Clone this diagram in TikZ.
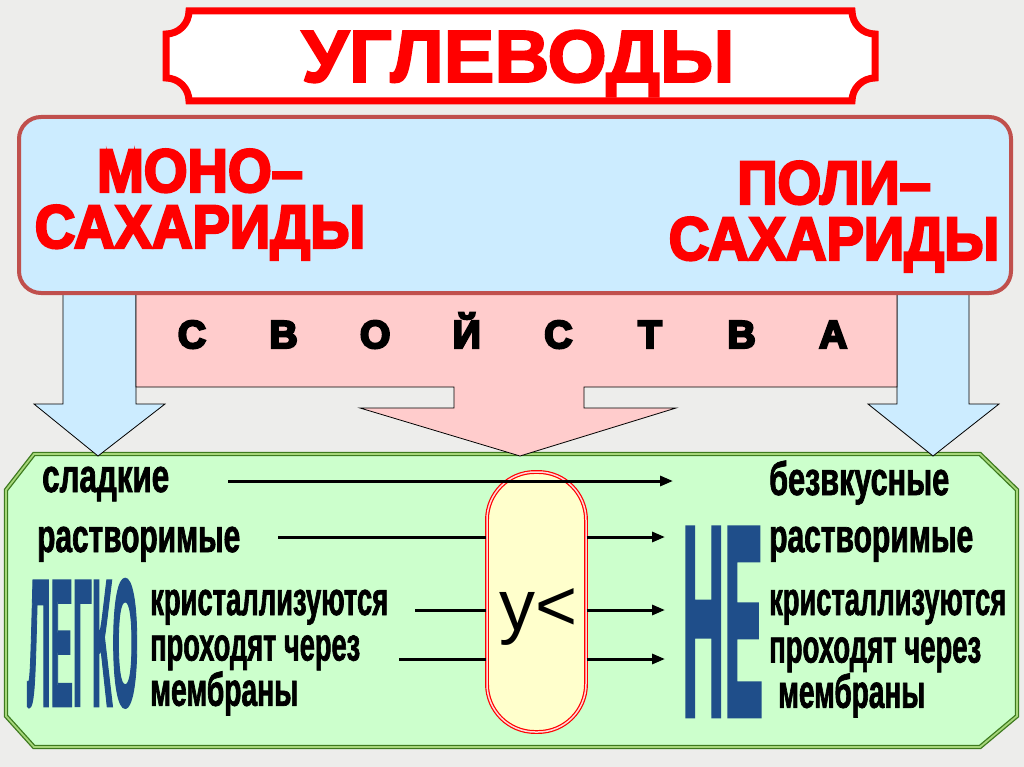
\documentclass[tikz,border=0pt]{standalone}
\usepackage{fontspec}
\usepackage{graphicx}
\setmainfont{Liberation Sans}
\newfontfamily\redfont{Liberation Sans Bold}[FakeStretch=0.92,FakeBold=4]
\newfontfamily\condfont{Liberation Sans Bold}[FakeStretch=0.68,FakeBold=1.5]
\newfontfamily\heavyfont{Liberation Sans Bold}[FakeBold=2.5]
\newfontfamily\blackfont{Liberation Sans Bold}[FakeBold=6]
\newcommand{\fitto}[2]{\resizebox{#1}{\height}{#2}}
\usetikzlibrary{arrows.meta,positioning}
\definecolor{bggray}{HTML}{EDEDEB}
\definecolor{titlered}{HTML}{FF0000}
\definecolor{skyfill}{HTML}{CCECFF}
\definecolor{skyedge}{HTML}{C0504D}
\definecolor{pinkfill}{HTML}{FFCCCC}
\definecolor{mintfill}{HTML}{CCFFCC}
\definecolor{mintedge}{HTML}{3D7A1E}
\definecolor{mintmid}{HTML}{A6D67A}
\definecolor{pillfill}{HTML}{FFFFCC}
\definecolor{nablue}{HTML}{1F4E8A}

\begin{document}
\begin{tikzpicture}[x=1pt,y=-1pt,
  redtext/.style={text=titlered,font=\redfont\fontsize{61}{56}\selectfont,inner sep=0pt,anchor=north,align=center},
  letter/.style={font=\blackfont\fontsize{39}{39}\selectfont,inner sep=0pt,anchor=base},
  prop/.style={font=\condfont\fontsize{47}{44}\selectfont,inner sep=0pt,anchor=base west},
  proplines/.style={prop,anchor=north west,align=left},
  bigword/.style={text=nablue,font=\heavyfont,inner sep=0pt,anchor=base west},
  link/.style={line width=3pt},
  linkarr/.style={line width=3pt,-{Triangle[length=13pt,width=10pt]}},
  fatarrow/.style={draw=black,line width=0.8pt,line join=miter},
]
  % Background and title plaque
  \fill[bggray] (0,0) rectangle (1024,767);
  \draw[titlered,line width=7pt,fill=white] (166,34) arc (90:0:23) -- (852,11) arc (180:90:23)
    -- (875,78) arc (270:180:23) -- (189,101) arc (0:-90:23) -- cycle;
  \node[text=titlered,font=\heavyfont\fontsize{74}{74}\selectfont,inner sep=0pt,anchor=base] (title) at (518,82) {\fitto{433pt}{УГЛЕВОДЫ}};

  % Lower panel
  \draw[mintedge,line width=1.3pt,double=mintmid,double distance=1.8pt,fill=mintfill]
    (6,490) -- (34,454) -- (980,454) -- (1017,490) -- (1017,716) -- (980,747) -- (34,747) -- (6,716) -- cycle;

  % Fat arrows
  \draw[fatarrow,fill=skyfill] (63,290) -- (136,290) -- (136,404) -- (165,404) -- (98,456) -- (34,404) -- (63,404) -- cycle;
  \draw[fatarrow,fill=skyfill] (897,290) -- (969,290) -- (969,404) -- (999,404) -- (933,456) -- (868,404) -- (897,404) -- cycle;
  \draw[fatarrow,fill=pinkfill] (136,290) -- (897,290) -- (897,387) -- (584,387) -- (584,408) -- (676,408)
    -- (520,456) -- (360,408) -- (454,408) -- (454,387) -- (136,387) -- cycle;
  \foreach \ch [count=\i from 0] in {С,В,О,Й,С,Т,В,А}
    \node[letter] (prop\i) at (192+91.6*\i,348) {\ch};

  % Upper panel
  \draw[skyedge,line width=4pt,fill=skyfill,rounded corners=22pt] (19,117) rectangle (1011,293);
  \node[redtext] (mono) at (200,149) {МОНО–\\САХАРИДЫ};
  \node[redtext] (poly) at (834,161) {ПОЛИ–\\САХАРИДЫ};

  % Comparison
  \node[draw=red,line width=1.2pt,double=pink!60,double distance=1.5pt,fill=pillfill,
        rounded corners=48pt,minimum width=99pt,minimum height=260pt] (pill) at (536.5,602) {};
  \node[font=\fontsize{72}{72}\selectfont,inner sep=0pt,anchor=base] (cmp) at (539,630) {у<};

  \node[bigword] (easy) at (27,705) {\resizebox{111pt}{125pt}{ЛЕГКО}};
  \node[bigword] (neg) at (682,715) {\resizebox{81pt}{186pt}{НЕ}};

  \node[prop] (lsweet) at (42,492) {\fitto{127pt}{сладкие}};
  \node[prop] (lsol)   at (37,552) {\fitto{203pt}{растворимые}};
  \node[prop] (lcry)   at (150,615) {\fitto{238pt}{кристаллизуются}};
  \node[proplines] (lpas) at (150,635) {\fitto{210pt}{проходят через}\\\fitto{148pt}{мембраны}};
  \node[prop] (rtaste) at (769,495) {\fitto{180pt}{безвкусные}};
  \node[prop] (rsol)   at (769,552) {\fitto{204pt}{растворимые}};
  \node[prop] (rcry)   at (769,615) {\fitto{237pt}{кристаллизуются}};
  \node[proplines] (rpas) at (769,637) {\fitto{212pt}{проходят через}\\\hspace{9pt}\fitto{147pt}{мембраны}};

  % Arrows
  \coordinate (a1) at (228,481); \coordinate (b1) at (673,481);
  \coordinate (a2) at (278,537); \coordinate (b2) at (665,537);
  \coordinate (a3) at (415,610); \coordinate (b3) at (665,610);
  \coordinate (a4) at (399,659); \coordinate (b4) at (665,659);
  \draw[linkarr] (a1) -- (b1);
  \foreach \k in {2,3,4} {
    \draw[link] (a\k) -- (a\k -| pill.west);
    \draw[linkarr] (b\k -| pill.east) -- (b\k);
  }
\end{tikzpicture}
\end{document}
